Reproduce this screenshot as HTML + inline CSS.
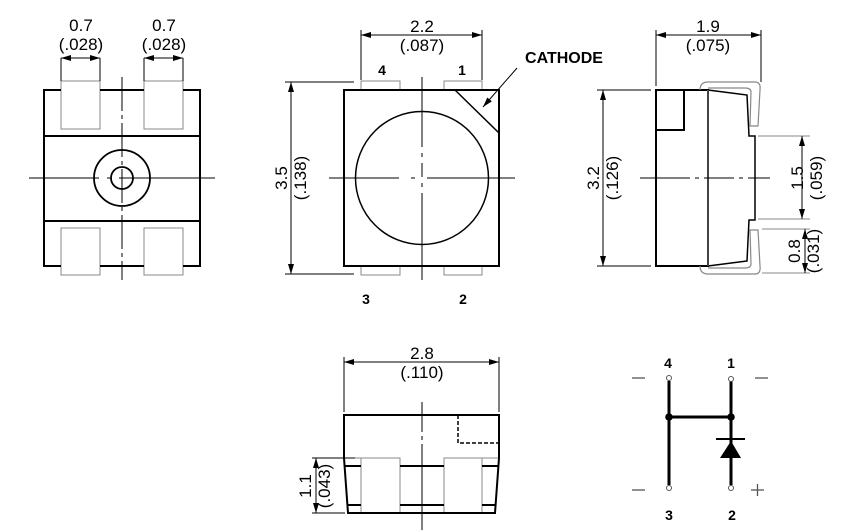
<!DOCTYPE html>
<html><head><style>body{margin:0;background:#fff}svg{display:block}</style></head><body>
<svg width="850" height="532" viewBox="0 0 850 532" xmlns="http://www.w3.org/2000/svg" font-family="Liberation Sans, sans-serif">
<defs>
<marker id="a" viewBox="0 0 10 6" refX="10" refY="3" markerWidth="11" markerHeight="6" orient="auto-start-reverse" markerUnits="userSpaceOnUse"><path d="M0,0L10,3L0,6z" fill="#000"/></marker>
</defs>
<g fill="none" stroke="#000">
<!-- LEFT VIEW -->
<g stroke="#888" stroke-width="1"><rect x="61" y="81" width="39" height="48"/><rect x="144" y="81" width="39" height="48"/><rect x="61" y="228" width="39" height="47"/><rect x="144" y="228" width="39" height="47"/></g>
<path d="M61,90H44V266H61M100,90H144M183,90H200V266H183M100,266H144" stroke-width="2"/>
<line x1="44" y1="136" x2="200" y2="136" stroke-width="2"/>
<line x1="44" y1="221" x2="200" y2="221" stroke-width="2"/>
<circle cx="122" cy="178" r="28" stroke-width="1.8"/><circle cx="122" cy="178" r="11" stroke-width="1.8"/>
<line x1="122" y1="77" x2="122" y2="280" stroke-dasharray="34,4,4,4" stroke-width="1"/>
<line x1="29" y1="178" x2="215" y2="178" stroke-width="1" stroke-dasharray="70,8,4,8,200"/>
<g stroke-width="1"><line x1="61" y1="58" x2="61" y2="81"/><line x1="100" y1="58" x2="100" y2="81"/><line x1="144" y1="58" x2="144" y2="81"/><line x1="183" y1="58" x2="183" y2="81"/>
<line x1="61" y1="58" x2="100" y2="58" marker-start="url(#a)" marker-end="url(#a)"/><line x1="144" y1="58" x2="183" y2="58" marker-start="url(#a)" marker-end="url(#a)"/></g>
<!-- MIDDLE VIEW -->
<g stroke="#888"><rect x="361" y="81" width="39" height="9"/><rect x="444" y="81" width="38" height="9"/><rect x="361" y="266" width="39" height="9"/><rect x="444" y="266" width="38" height="9"/></g>
<rect x="344" y="90" width="155" height="176" stroke-width="2"/>
<line x1="455" y1="90" x2="499" y2="133" stroke-width="1.5"/>
<circle cx="422" cy="178" r="66.5" stroke-width="1.5"/>
<line x1="422" y1="77" x2="422" y2="280" stroke-width="1" stroke-dasharray="70,6,4,6,14,6,4,6,200"/>
<line x1="329" y1="178" x2="515" y2="178" stroke-width="1" stroke-dasharray="70,12,4,12,200"/>
<line x1="517" y1="68" x2="483" y2="107" stroke-width="1" marker-end="url(#a)"/>
<g stroke-width="1"><line x1="361" y1="30" x2="361" y2="80"/><line x1="482" y1="30" x2="482" y2="80"/><line x1="361" y1="35" x2="482" y2="35" marker-start="url(#a)" marker-end="url(#a)"/>
<line x1="285" y1="82" x2="354" y2="82"/><line x1="285" y1="274" x2="354" y2="274"/><line x1="291" y1="82" x2="291" y2="274" marker-start="url(#a)" marker-end="url(#a)"/></g>
<!-- RIGHT VIEW -->
<rect x="656" y="90" width="52" height="176" stroke-width="2"/>
<path d="M656,130H684V90" stroke-width="2"/>
<path d="M708,90L747,95L749,136H755V220H749L747,261L708,266" stroke-width="1.5"/>
<line x1="708" y1="90" x2="708" y2="266" stroke="#888"/>
<g stroke="#888" stroke-width="1.2"><path d="M700,90Q700,82 708,82H755Q761,82 760,90L758,126H750L751,92Q751,88 745,88H708"/><path d="M700,266Q700,274 708,274H755Q761,274 760,266L758,230H750L751,264Q751,268 745,268H708"/></g>
<line x1="640" y1="178" x2="770" y2="178" stroke-width="1" stroke-dasharray="50,5,4,5,30,5,4,5,200"/>
<g stroke-width="1"><line x1="656" y1="30" x2="656" y2="86"/><line x1="761" y1="30" x2="761" y2="82"/><line x1="656" y1="35" x2="761" y2="35" marker-start="url(#a)" marker-end="url(#a)"/>
<line x1="597" y1="90" x2="651" y2="90"/><line x1="597" y1="266" x2="651" y2="266"/><line x1="603" y1="90" x2="603" y2="266" marker-start="url(#a)" marker-end="url(#a)"/>
<line x1="758" y1="136" x2="810" y2="136" stroke="#888"/><line x1="758" y1="219" x2="810" y2="219" stroke="#888"/><line x1="802" y1="136" x2="802" y2="219" marker-start="url(#a)" marker-end="url(#a)"/>
<line x1="762" y1="229" x2="810" y2="229" stroke="#888"/><line x1="762" y1="273" x2="810" y2="273" stroke="#888"/><line x1="805" y1="229" x2="805" y2="273" marker-start="url(#a)" marker-end="url(#a)"/></g>
<!-- BOTTOM VIEW -->
<g stroke="#888"><rect x="361" y="458" width="39" height="55"/><rect x="444" y="458" width="38" height="55"/><line x1="344" y1="458" x2="361" y2="458"/><line x1="482" y1="458" x2="499" y2="458"/></g>
<path d="M344,458V415H499V458" stroke-width="2"/>
<path d="M344,458L348,513H495L499,458" stroke-width="2"/>
<path d="M458,415V443H499" stroke-width="1.5" stroke-dasharray="4,2"/>
<g stroke-width="2"><line x1="345" y1="466" x2="361" y2="466"/><line x1="400" y1="466" x2="444" y2="466"/><line x1="482" y1="466" x2="498" y2="466"/><line x1="347" y1="505" x2="361" y2="505"/><line x1="400" y1="505" x2="444" y2="505"/><line x1="482" y1="505" x2="496" y2="505"/></g>
<line x1="422" y1="402" x2="422" y2="530" stroke-width="1" stroke-dasharray="30,4,4,4,200"/>
<g stroke-width="1"><line x1="344" y1="357" x2="344" y2="412"/><line x1="499" y1="357" x2="499" y2="412"/><line x1="344" y1="362" x2="499" y2="362" marker-start="url(#a)" marker-end="url(#a)"/>
<line x1="312" y1="458" x2="355" y2="458"/><line x1="312" y1="513" x2="345" y2="513"/><line x1="316" y1="458" x2="316" y2="513" marker-start="url(#a)" marker-end="url(#a)"/></g>
<!-- SCHEMATIC -->
<g stroke-width="3"><line x1="669" y1="381" x2="669" y2="485"/><line x1="731" y1="381" x2="731" y2="485"/><line x1="669" y1="417" x2="731" y2="417"/><line x1="716" y1="439" x2="745" y2="439" stroke-width="2"/></g>
<g stroke="#555" stroke-width="1.3"><line x1="632" y1="378" x2="645" y2="378"/><line x1="755" y1="378" x2="768" y2="378"/><line x1="632" y1="490" x2="645" y2="490"/><line x1="751" y1="490" x2="764" y2="490"/><line x1="757.5" y1="484" x2="757.5" y2="496"/></g>
</g>
<g fill="#000"><circle cx="669" cy="417" r="3.8"/><circle cx="731" cy="417" r="3.8"/><path d="M720,458H741L731,441z"/></g>
<g fill="#fff" stroke="#555" stroke-width="1"><circle cx="669" cy="378" r="2.5"/><circle cx="731" cy="379" r="2.5"/><circle cx="669" cy="488" r="2.5"/><circle cx="731" cy="488" r="2.5"/></g>
<g font-size="17" text-anchor="middle" fill="#000">
<text x="81" y="31">0.7</text><text x="81" y="50">(.028)</text>
<text x="164" y="31">0.7</text><text x="164" y="50">(.028)</text>
<text x="422" y="32">2.2</text><text x="422" y="51">(.087)</text>
<text x="708" y="32">1.9</text><text x="708" y="51">(.075)</text>
<text x="422" y="359">2.8</text><text x="422" y="378">(.110)</text>
<text transform="translate(287,178) rotate(-90)">3.5</text><text transform="translate(306,178) rotate(-90)">(.138)</text>
<text transform="translate(599,178) rotate(-90)">3.2</text><text transform="translate(618,178) rotate(-90)">(.126)</text>
<text transform="translate(803,178) rotate(-90)">1.5</text><text transform="translate(822,178) rotate(-90)">(.059)</text>
<text transform="translate(800,251) rotate(-90)">0.8</text><text transform="translate(819,251) rotate(-90)">(.031)</text>
<text transform="translate(311,486) rotate(-90)">1.1</text><text transform="translate(330,486) rotate(-90)">(.043)</text>
</g>
<g font-size="14" font-weight="bold" text-anchor="middle" fill="#000">
<text x="382" y="75">4</text><text x="462" y="75">1</text><text x="366" y="304">3</text><text x="463" y="304">2</text>
<text x="668" y="368">4</text><text x="731" y="368">1</text><text x="669" y="520">3</text><text x="732" y="520">2</text>
<text x="564" y="63" font-size="16">CATHODE</text>
</g>
</svg>
</body></html>
